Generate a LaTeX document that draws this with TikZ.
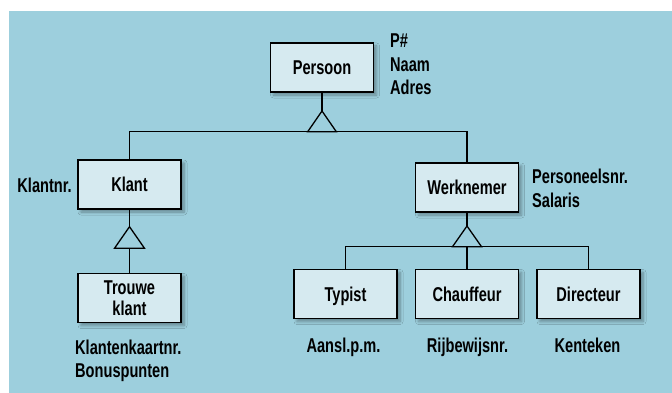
\documentclass[tikz,border=0pt]{standalone}
\usepackage{fontspec}
\setmainfont{Liberation Sans}[FakeStretch=0.73]
\usetikzlibrary{shadows.blur}
\definecolor{bgblue}{RGB}{157,207,221}
\definecolor{boxfill}{RGB}{214,234,240}
\tikzset{
  entity/.style={draw=black, line width=1.3pt, fill=boxfill,
    minimum width=103pt, minimum height=49pt, inner sep=0pt,
    align=center, font=\fontsize{20}{21}\selectfont\bfseries,
    blur shadow={shadow xshift=3pt, shadow yshift=-3pt,
      shadow blur radius=3pt, shadow blur steps=6,
      shadow opacity=35}},
  oneline/.style={text height=14.3pt, text depth=0pt},
  attr/.style={inner sep=0pt, font=\fontsize{20}{23.5}\selectfont\bfseries},
  link/.style={draw=black, line width=1.3pt, line join=miter}
}
\begin{document}
\begin{tikzpicture}[x=1pt, y=-1pt]
  \useasboundingbox (0,0) rectangle (672,393);
  \fill[bgblue] (9,11) rectangle (672,393);

  % entity boxes
  \node[entity, oneline] (p)  at (322,67.5)  {Persoon};
  \node[entity, oneline] (k)  at (129.5,184.5) {Klant};
  \node[entity] (tk) at (129.5,298) {Trouwe\\klant};
  \node[entity, oneline] (w)  at (467,187.5) {Werknemer};
  \node[entity, oneline] (ty) at (345.5,294) {Typist};
  \node[entity, oneline] (ch) at (467,294)   {Chauffeur};
  \node[entity, oneline] (di) at (588.5,294) {Directeur};

  % attribute lists
  \node[attr, anchor=north west, align=left] (pa) at (390,34) {P\#\\Naam\\Adres};
  \node[attr, anchor=base east] (ka) at (72,192) {Klantnr.};
  \node[attr, anchor=north west, align=left] (wa) at (532,169) {Personeelsnr.\\Salaris};
  \node[attr, anchor=north west, align=left] (tka) at (75,339.5) {Klantenkaartnr.\\Bonuspunten};
  \node[attr, anchor=base] (tya) at (343.5,352) {Aansl.p.m.};
  \node[attr, anchor=base] (cha) at (467.5,352) {Rijbewijsnr.};
  \node[attr, anchor=base] (dia) at (587.5,352) {Kenteken};

  % generalisation Persoon
  \coordinate (t1) at (p.south |- 0,111);
  \coordinate (b1) at (0,131.7);
  \draw[link] (p.south) -- (t1);
  \draw[link] (t1) -- ++(-14.3,20.7) -- ++(28.6,0) -- cycle;
  \draw[link] (k.north) -- (k.north |- b1) -- (w.north |- b1) -- (w.north);

  % generalisation Klant
  \coordinate (t2) at (k.south |- 0,226.7);
  \draw[link] (k.south) -- (t2);
  \draw[link] (t2) -- ++(-15,21.6) -- ++(30,0) -- cycle;
  \draw[link] (t2) ++(0,21.6) -- (tk.north);

  % generalisation Werknemer
  \coordinate (t3) at (w.south |- 0,226);
  \coordinate (b3) at (0,246.7);
  \draw[link] (w.south) -- (t3);
  \draw[link] (t3) -- ++(-14.5,20.7) -- ++(29,0) -- cycle;
  \draw[link] (ty.north) -- (ty.north |- b3) -- (di.north |- b3) -- (di.north);
  \draw[link] (ch.north |- b3) -- (ch.north);
\end{tikzpicture}
\end{document}
